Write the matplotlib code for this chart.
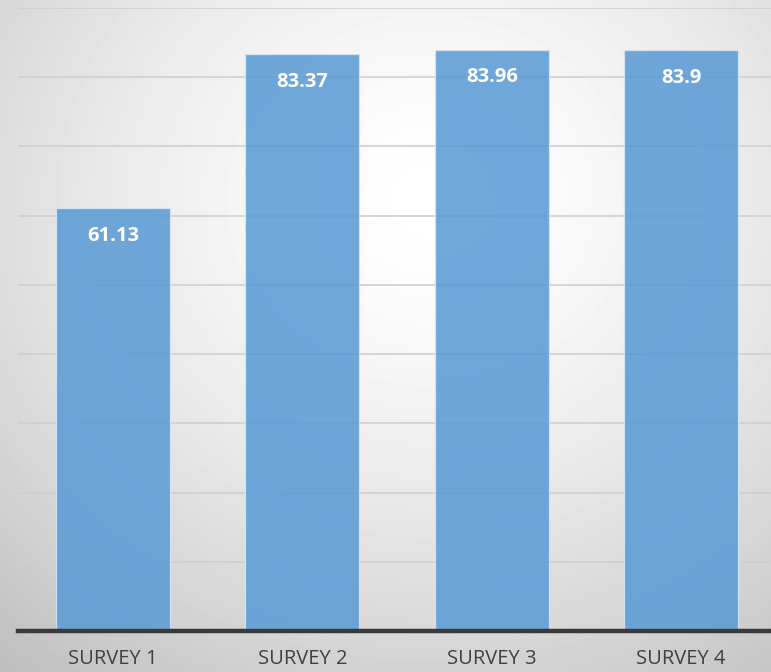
import numpy as np
import matplotlib.pyplot as plt

surveys = ['SURVEY 1', 'SURVEY 2', 'SURVEY 3', 'SURVEY 4']
scores = [61.13, 83.37, 83.96, 83.9]

W, H = 771, 672
fig = plt.figure(figsize=(W / 100, H / 100), dpi=100)

# soft radial background, light in the upper middle
bg = fig.add_axes([0, 0, 1, 1], zorder=-10)
yy, xx = np.mgrid[0:H, 0:W]
r = np.hypot((xx - 430) / 660, (yy - 200) / 600)
shade = np.clip(1 - 0.25 * r ** 1.5, 0, 1)
bg.imshow(shade, cmap='gray', vmin=0, vmax=1, aspect='auto',
          extent=[0, W, H, 0], interpolation='bilinear')
bg.axis('off')

ax = fig.add_axes([18 / W, 41 / H, 758 / W, 623 / H])
ax.patch.set_alpha(0)
x = np.arange(len(surveys))
bars = ax.bar(x, scores, width=0.6, color='#5b9bd5', alpha=0.87,
              edgecolor='#d8e6f4', linewidth=0.9, zorder=3)

for xi, v in zip(x, scores):
    ax.text(xi, v - 4.0, f'{v:g}', ha='center', va='center', color='white',
            fontsize=14.5, fontweight='bold', family='Open Sans', zorder=4)

ax.set_xlim(-0.5, 3.5)
ax.set_ylim(0, 90)
ax.set_yticks(np.arange(10, 91, 10))
ax.yaxis.grid(True, color='#cfcfcf', linewidth=1.2, zorder=1)
ax.tick_params(axis='y', left=False, labelleft=False)
ax.tick_params(axis='x', length=0, pad=13)
ax.set_xticks(x)
ax.set_xticklabels(surveys, fontsize=14.5, color='#404040', family='Open Sans')
for side in ['top', 'right', 'left']:
    ax.spines[side].set_visible(False)
ax.spines['bottom'].set_color('#3a3a3a')
ax.spines['bottom'].set_linewidth(3.2)
ax.spines['bottom'].set_zorder(5)

plt.savefig('out.png', dpi=100)
